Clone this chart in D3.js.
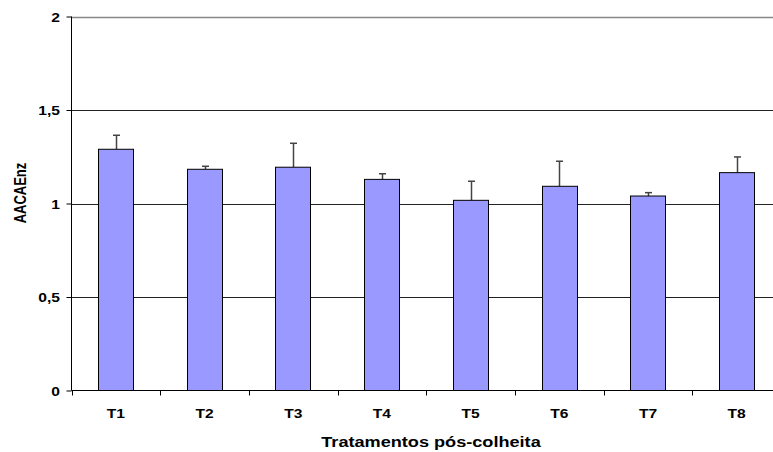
<!DOCTYPE html>
<html>
<head>
<meta charset="utf-8">
<script src="https://cdn.jsdelivr.net/npm/d3@7"></script>
<style>
  body { margin: 0; background: #fff; }
  svg { display: block; }
  text { font-family: "Liberation Sans", Arial, sans-serif; font-weight: bold; fill: #000; }
</style>
</head>
<body>
<svg id="chart" width="773" height="452"></svg>
<script>
const categories = ["T1", "T2", "T3", "T4", "T5", "T6", "T7", "T8"];
const values = [1.29, 1.183, 1.194, 1.129, 1.017, 1.092, 1.040, 1.165];
const errors = [0.075, 0.016, 0.128, 0.030, 0.102, 0.134, 0.018, 0.084];
const yTicks = [0, 0.5, 1, 1.5, 2];
const yTickLabels = ["0", "0,5", "1", "1,5", "2"];
const xTitle = "Tratamentos pós-colheita";
const yTitle = "AACAEnz";

const svg = d3.select("#chart");
const mLeft = 71.5, mRight = 781, mTop = 16.5, mBottom = 390.5;
const sx = 1.25; // horizontal stretch of the text in the original picture

const x = d3.scaleBand().domain(categories).range([mLeft, mRight]).paddingInner(0.6).paddingOuter(0.3);
const xb = d3.scaleBand().domain(categories).range([mLeft, mRight]);
const y = d3.scaleLinear().domain([0, 2]).range([mBottom, mTop]);

// gridlines
svg.append("g").selectAll("line").data(yTicks.filter(d => d > 0)).join("line")
  .attr("x1", mLeft).attr("x2", 773)
  .attr("y1", d => Math.round(y(d)) + 0.5).attr("y2", d => Math.round(y(d)) + 0.5)
  .attr("stroke", d => d === 2 ? "#888" : "#222").attr("stroke-width", d => d === 2 ? 1.5 : 1);

// error bars
const eb = svg.append("g");
categories.forEach((c, i) => {
  const cx = Math.round(xb(c) + xb.bandwidth() / 2) + 0.5;
  eb.append("line").attr("x1", cx).attr("x2", cx)
    .attr("y1", y(values[i])).attr("y2", y(values[i] + errors[i]))
    .attr("stroke", "#444").attr("stroke-width", 1.5);
  eb.append("line").attr("x1", cx - 3.5).attr("x2", cx + 3.5)
    .attr("y1", y(values[i] + errors[i])).attr("y2", y(values[i] + errors[i]))
    .attr("stroke", "#444").attr("stroke-width", 1.5);
});

// bars
svg.append("g").selectAll("rect").data(categories).join("rect")
  .attr("x", c => Math.round(x(c)) + 0.5)
  .attr("y", (c, i) => y(values[i]))
  .attr("width", Math.round(x.bandwidth()))
  .attr("height", (c, i) => mBottom - y(values[i]))
  .attr("fill", "#9999FF").attr("stroke", "#000").attr("stroke-width", 1);

// y axis
const yAxis = d3.axisLeft(y).tickValues(yTicks).tickFormat((d, i) => yTickLabels[i]).tickSize(5);
const gy = svg.append("g").attr("transform", `translate(${mLeft},0)`).call(yAxis);
gy.select(".domain").attr("stroke", "#000").attr("d", `M0,${mTop}V${mBottom}`);
gy.selectAll(".tick line").attr("stroke", "#000");
gy.selectAll(".tick text")
  .attr("font-size", 12.5).attr("font-family", null)
  .attr("x", 0).attr("dy", "0.36em")
  .attr("transform", `translate(-11.5,0) scale(${sx},1)`);

// x axis
const xAxis = d3.axisBottom(xb).tickSize(0).tickPadding(0).tickFormat(d => d);
const gx = svg.append("g").attr("transform", `translate(0,${mBottom})`).call(xAxis);
gx.select(".domain").attr("stroke", "#000").attr("d", `M${mLeft},0H${mRight}`);
gx.selectAll(".tick text")
  .attr("font-size", 12.5).attr("font-family", null).attr("dy", null).attr("y", 0)
  .attr("transform", `translate(0,27.5) scale(${sx},1)`);
// band-boundary tick marks
svg.append("g").selectAll("line").data(d3.range(categories.length + 1)).join("line")
  .attr("x1", i => Math.round(mLeft + i * xb.step()) + 0.5)
  .attr("x2", i => Math.round(mLeft + i * xb.step()) + 0.5)
  .attr("y1", mBottom).attr("y2", mBottom + 5)
  .attr("stroke", "#000");

// titles
svg.append("text").attr("transform", `translate(431,447) scale(${sx},1)`)
  .attr("text-anchor", "middle").attr("font-size", 14.5).text(xTitle);
svg.append("text").attr("transform", `translate(26,193) scale(${sx},1) rotate(-90)`)
  .attr("text-anchor", "middle").attr("font-size", 13).text(yTitle);
</script>
</body>
</html>
